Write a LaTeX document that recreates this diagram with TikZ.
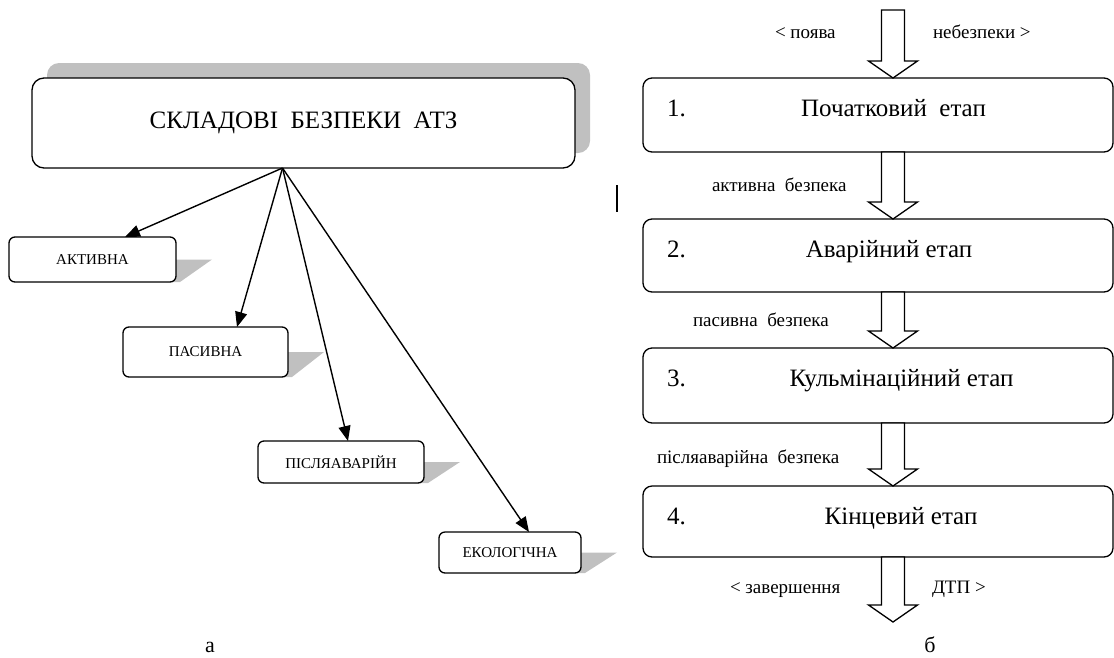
\documentclass[tikz,border=0pt]{standalone}
\usepackage{fontspec}
\setmainfont{Liberation Serif}
\usetikzlibrary{calc,arrows.meta,backgrounds}
\tikzset{
  every node/.style={inner sep=0pt, outer sep=0pt},
  bigbox/.style={draw=black, line width=1.3pt, rounded corners=12pt, fill=white,
    minimum width=543pt, minimum height=90pt, font=\fontsize{25}{29}\selectfont},
  smallbox/.style={draw=black, line width=1.3pt, rounded corners=6pt, fill=white,
    font=\fontsize{15}{18}\selectfont},
  stagebox/.style={draw=black, line width=1.3pt, rounded corners=9pt, fill=white,
    minimum width=470pt},
  stagetxt/.style={font=\fontsize{25}{30}\selectfont, anchor=base},
  numtxt/.style={font=\fontsize{25}{30}\selectfont, anchor=base west},
  lbl/.style={font=\fontsize{19}{22}\selectfont, anchor=base west},
  captxt/.style={font=\fontsize{22}{26}\selectfont, anchor=base},
  shadowfill/.style={fill=shadowgray, draw=none},
  arr/.style={draw=black, line width=1.4pt, -{Triangle[length=15pt,width=12pt]}},
  blockarrow/.style={draw=black, line width=1.3pt, fill=white, line join=miter},
}
\definecolor{shadowgray}{HTML}{C0C0C0}
\newcommand\blockarr[2]{%
  \draw[blockarrow] let \p1=(#1), \p2=(#2) in
    (\x2-11.5pt,\y1) -- (\x2-11.5pt,\y2+17pt) -- (\x2-24.5pt,\y2+17pt) -- (\x2,\y2)
    -- (\x2+24.5pt,\y2+17pt) -- (\x2+11.5pt,\y2+17pt) -- (\x2+11.5pt,\y1) -- cycle;}
\newcommand\sshadow[1]{%
  \fill[shadowfill] ($(#1.east)+(-10,0)$) -- ($(#1.east)+(36,0)$)
    -- ($(#1.south east)+(4,0)$) -- ($(#1.south east)+(-10,0)$) -- cycle;}
\begin{document}
\begin{tikzpicture}[x=1pt,y=-1pt]
\useasboundingbox (0,0) rectangle (1114,657);

% ---------- left part (a) ----------
\node[bigbox] (main) at (303.5,123) {СКЛАДОВІ\ \ БЕЗПЕКИ\ \ АТЗ};
\node[smallbox, minimum width=167pt, minimum height=45pt] (akt) at (92.5,259.5) {АКТИВНА};
\node[smallbox, minimum width=165pt, minimum height=50pt] (pas) at (205.5,352) {ПАСИВНА};
\node[smallbox, minimum width=166pt, minimum height=42pt] (pisl) at (341,462) {ПІСЛЯАВАРІЙН};
\node[smallbox, minimum width=142pt, minimum height=41pt] (eko) at (510,552.5) {ЕКОЛОГІЧНА};

\begin{pgfonlayer}{background}
  \fill[shadowfill, rounded corners=12pt] ($(main.south west)+(15,-15)$) rectangle ($(main.north east)+(15,-15)$);
  \sshadow{akt}
  \sshadow{pas}
  \sshadow{pisl}
  \sshadow{eko}
\end{pgfonlayer}

\coordinate (o) at ($(main.south)+(-21,0)$);
\draw[arr] (o) -- ($(akt.north west)+(116,0)$);
\draw[arr] (o) -- ($(pas.north west)+(114,0)$);
\draw[arr] (o) -- ($(pisl.north west)+(90,0)$);
\draw[arr] (o) -- ($(eko.north west)+(90,0)$);

\node[captxt] (capa) at (210,652) {а};

% stray mark
\draw[line width=1.1pt] (617,185) -- (617,212);

% ---------- right part (b) ----------
\node[stagebox, minimum height=74pt] (b1) at (878,115) {};
\node[stagebox, minimum height=73pt] (b2) at (878,255.5) {};
\node[stagebox, minimum height=75pt] (b3) at (878,385.5) {};
\node[stagebox, minimum height=71pt] (b4) at (878,521.5) {};

\node[numtxt] at ($(b1.north west)+(24,38)$) {1.};
\node[numtxt] at ($(b2.north west)+(24,38)$) {2.};
\node[numtxt] at ($(b3.north west)+(24,38)$) {3.};
\node[numtxt] at ($(b4.north west)+(24,38)$) {4.};

\node[stagetxt] at ($(b1.north)+(15.5,38)$) {Початковий\ \ етап};
\node[stagetxt] at ($(b2.north)+(11,38)$) {Аварійний етап};
\node[stagetxt] at ($(b3.north)+(23.5,38)$) {Кульмінаційний етап};
\node[stagetxt] at ($(b4.north)+(23,38)$) {Кінцевий етап};

\coordinate (start) at (893,10);
\coordinate (finish) at (893,622);
\blockarr{start}{$(b1.north)+(15,0)$}
\blockarr{$(b1.south)+(15,0)$}{$(b2.north)+(15,0)$}
\blockarr{$(b2.south)+(15,0)$}{$(b3.north)+(15,0)$}
\blockarr{$(b3.south)+(15,0)$}{$(b4.north)+(15,0)$}
\blockarr{$(b4.south)+(15,0)$}{finish}

\node[lbl] at (775,38) {<\ поява};
\node[lbl] at (933,38) {небезпеки >};
\node[lbl] at (712,191) {активна\ \ безпека};
\node[lbl] at (693,326) {пасивна\ \ безпека};
\node[lbl] at (657,463) {післяаварійна\ \ безпека};
\node[lbl] at (730,593) {<\ завершення};
\node[lbl] at (932,593) {ДТП >};

\node[captxt] (capb) at (930,652) {б};
\end{tikzpicture}
\end{document}
